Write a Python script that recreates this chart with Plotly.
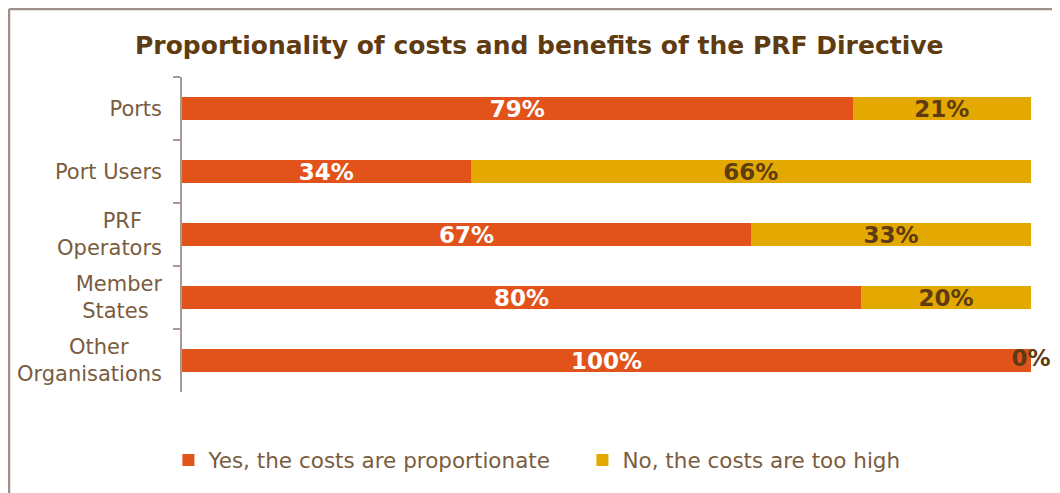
import plotly.graph_objects as go

categories = ["Ports", "Port Users", "PRF\u00a0\u00a0\u00a0<br>Operators",
              "Member<br>States\u00a0\u00a0", "Other\u00a0\u00a0\u00a0\u00a0\u00a0<br>Organisations"]
yes_vals = [79, 34, 67, 80, 100]
no_vals = [21, 66, 33, 20, 0]
yes_name = "Yes, the costs are proportionate"
no_name = "No, the costs are too high"
title = "Proportionality of costs and benefits of the PRF Directive"

ORANGE = "#E2531B"
YELLOW = "#E3A900"
BROWN_DARK = "#5E3B10"
BROWN_TXT = "#7A5C3E"
FRAME = "#9E8F88"
FONT = "DejaVu Sans"

# plot-area geometry in figure pixels
W, H = 1052, 485
ML, MR, MT, MB = 174, 29, 69, 101
PW, PH = W - ML - MR, H - MT - MB

fig = go.Figure()
fig.add_trace(go.Bar(
    y=categories, x=yes_vals, name=yes_name, orientation="h",
    marker=dict(color=ORANGE, line=dict(width=0)),
    text=[f"{v}%" for v in yes_vals], textposition="inside", insidetextanchor="middle",
    textfont=dict(family=FONT, size=23, color="white", weight="bold"),
    constraintext="none", cliponaxis=False,
))
fig.add_trace(go.Bar(
    y=categories, x=no_vals, name=no_name, orientation="h",
    marker=dict(color=YELLOW, line=dict(width=0)),
    text=[f"{v}%" if v > 0 else "" for v in no_vals],
    textposition="inside", insidetextanchor="middle",
    textfont=dict(family=FONT, size=23, color=BROWN_DARK, weight="bold"),
    constraintext="none", cliponaxis=False,
))
# labels of zero-width segments, centred on the bar end
zero_y = [c for c, n in zip(categories, no_vals) if n == 0]
zero_x = [y + n for y, n in zip(yes_vals, no_vals) if n == 0]
zero_t = [f"{n}%" for n in no_vals if n == 0]
fig.add_trace(go.Scatter(
    y=zero_y, x=zero_x, text=zero_t, mode="text", textposition="middle center",
    textfont=dict(family=FONT, size=23, color=BROWN_DARK, weight="bold"),
    showlegend=False, hoverinfo="skip", cliponaxis=False,
))

fig.update_layout(
    width=W, height=H,
    barmode="stack", bargap=0.62,
    margin=dict(l=ML, r=MR, t=MT, b=MB, autoexpand=False),
    paper_bgcolor="white", plot_bgcolor="white",
    title=dict(text=f"<b>{title}</b>", x=0.505, xanchor="center", y=0.924, yanchor="middle",
               font=dict(family=FONT, size=25, color=BROWN_DARK)),
    font=dict(family=FONT, color=BROWN_TXT),
    legend=dict(orientation="h", x=-0.016, xanchor="left", y=-0.216, yanchor="middle",
                font=dict(family=FONT, size=21.5, color=BROWN_TXT), traceorder="normal",
                itemwidth=30, entrywidth=369, entrywidthmode="pixels"),
    xaxis=dict(range=[0, 100], visible=False, fixedrange=True, automargin=False),
    yaxis=dict(autorange="reversed", showline=True, linecolor="#A59A94", linewidth=1.5,
               ticks="outside", ticklen=7, tickcolor="#A59A94", tickwidth=1.5, tickson="boundaries",
               ticklabelstandoff=14, automargin=False,
               tickfont=dict(family=FONT, size=21, color=BROWN_TXT), showgrid=False),
    showlegend=True,
)

# chart frame (top and left border of the original image)
fx = (1 - ML) / PW
fy = (PH + MT - 1) / PH
fig.add_shape(type="line", xref="paper", yref="paper",
              x0=fx, x1=fx, y0=-0.5, y1=fy, line=dict(color=FRAME, width=2.5))
fig.add_shape(type="line", xref="paper", yref="paper",
              x0=fx, x1=1.2, y0=fy, y1=fy, line=dict(color=FRAME, width=2.5))

fig.write_html("out.html")
